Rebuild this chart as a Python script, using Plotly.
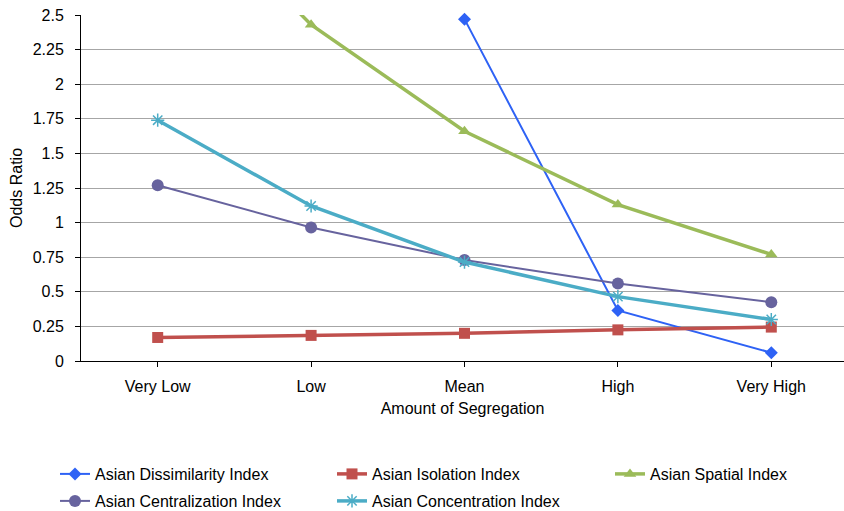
import plotly.graph_objects as go

# Segregation levels on the x axis
categories = ["Very Low", "Low", "Mean", "High", "Very High"]

# Odds ratios per segregation index (None = not plotted)
dissimilarity = [None, None, 2.47, 0.365, 0.06]
isolation = [0.17, 0.185, 0.20, 0.225, 0.245]
spatial = [3.55, 2.43, 1.66, 1.13, 0.77]
centralization = [1.27, 0.965, 0.73, 0.56, 0.425]
concentration = [1.74, 1.12, 0.715, 0.465, 0.30]

y_ticks = [0, 0.25, 0.5, 0.75, 1, 1.25, 1.5, 1.75, 2, 2.25, 2.5]
y_tick_text = ["0", "0.25", "0.5", "0.75", "1", "1.25", "1.5", "1.75", "2", "2.25", "2.5"]

FONT = "Liberation Sans, Arial, sans-serif"
FS = 16
x_idx = list(range(len(categories)))

series = [
    ("Asian Dissimilarity Index", dissimilarity, "#2E62F5", 2, "diamond", 10, "legend", False),
    ("Asian Isolation Index", isolation, "#C0504D", 3.5, "square", 11, "legend", False),
    ("Asian Spatial Index", spatial, "#9BBB59", 3.5, "triangle-up", 11, "legend3", True),
    ("Asian Centralization Index", centralization, "#67639E", 2, "circle", 12, "legend2", False),
    ("Asian Concentration Index", concentration, "#4BACC6", 3.5, "asterisk-open", 11, "legend2", False),
]

fig = go.Figure()
for name, vals, color, lw, sym, ms, leg, clip in series:
    fig.add_trace(go.Scatter(
        x=x_idx, y=vals, name=name, mode="lines+markers",
        line=dict(color=color, width=lw),
        marker=dict(symbol=sym, size=ms, color=color,
                    line=dict(color=color, width=1.5 if sym == "asterisk-open" else 0)),
        legend=leg, cliponaxis=clip, connectgaps=False,
    ))


def legend_box(x_px, y_px):
    return dict(
        orientation="h", xref="container", yref="container",
        x=x_px / 844, y=1 - y_px / 511, xanchor="left", yanchor="middle",
        entrywidth=232, entrywidthmode="pixels",
        font=dict(family=FONT, size=FS), bgcolor="rgba(0,0,0,0)",
    )


fig.update_layout(
    width=844, height=511,
    margin=dict(l=81, r=0, t=15, b=150),
    paper_bgcolor="white", plot_bgcolor="white",
    font=dict(family=FONT, size=FS, color="#000000"),
    showlegend=True,
    legend=legend_box(55, 474),
    legend3=legend_box(610, 474),
    legend2=legend_box(55, 501),
)

fig.update_xaxes(
    tickmode="array", tickvals=x_idx, ticktext=categories,
    range=[-0.5, 4.474],
    showline=True, linecolor="#000000", linewidth=1,
    ticks="outside", tickson="boundaries", ticklen=5, tickcolor="#000000",
    showgrid=False, zeroline=False,
    ticklabelstandoff=6, tickfont=dict(size=FS),
    title=dict(text="Amount of Segregation", font=dict(size=FS), standoff=8),
)

fig.update_yaxes(
    range=[0, 2.5], tickmode="array", tickvals=y_ticks, ticktext=y_tick_text,
    showline=True, linecolor="#000000", linewidth=1,
    ticks="outside", ticklen=5, tickcolor="#000000",
    showgrid=True, gridcolor="#A6A6A6", gridwidth=1,
    zeroline=False, ticklabelstandoff=8, tickfont=dict(size=FS),
    title=dict(text="Odds Ratio", font=dict(size=FS), standoff=6),
)

fig.write_html("out.html")
